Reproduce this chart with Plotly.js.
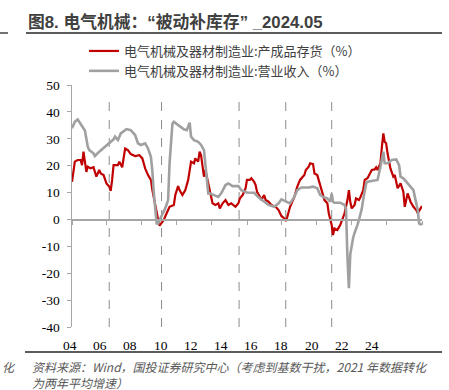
<!DOCTYPE html>
<html>
<head>
<meta charset="utf-8">
<script src="https://cdn.plot.ly/plotly-3.0.1.min.js"></script>
<style>
html,body{margin:0;padding:0;background:#fff;}
#chart{width:449px;height:390px;}
</style>
</head>
<body>
<div id="chart"></div>
<script>
// 电气机械及器材制造业:产成品存货（%）
const redDates = ['2004-01','2004-02','2004-03','2004-05','2004-07','2004-08','2004-09','2004-10','2004-11','2004-12',
'2005-02','2005-04','2005-06','2005-08','2005-09','2005-11','2006-01','2006-03','2006-04','2006-05','2006-06','2006-09',
'2006-10','2006-12','2007-02','2007-04','2007-06','2007-09','2007-12','2008-02','2008-04','2008-06','2008-08','2008-09',
'2008-10','2008-11','2008-12','2009-01','2009-02','2009-03','2009-05','2009-07','2009-09','2009-12','2010-01','2010-03',
'2010-04','2010-06','2010-08','2010-10','2010-12','2011-02','2011-03','2011-05','2011-06','2011-07','2011-09','2011-10',
'2011-12','2012-01','2012-03','2012-05','2012-07','2012-08','2012-10','2012-12','2013-02','2013-04','2013-07','2013-09',
'2013-10','2013-12','2014-02','2014-03','2014-05','2014-06','2014-08','2014-09','2014-10','2014-12','2015-01','2015-03',
'2015-04','2015-06','2015-08','2015-11','2016-01','2016-03','2016-05','2016-06','2016-07','2016-09','2016-12','2017-02',
'2017-04','2017-07','2017-08','2017-10','2017-11','2018-01','2018-02','2018-04','2018-05','2018-07','2018-09','2018-11',
'2018-12','2019-02','2019-03','2019-04','2019-06','2019-08','2019-10','2019-11','2020-01','2020-02','2020-03','2020-04',
'2020-06','2020-07','2020-09','2020-10','2020-12','2021-01','2021-03','2021-04','2021-06','2021-08','2021-09','2021-10',
'2021-12','2022-01','2022-02','2022-03','2022-04','2022-05','2022-06','2022-07','2022-09','2022-10','2022-11','2022-12',
'2023-02','2023-04','2023-05','2023-06','2023-07','2023-09','2023-11','2024-01','2024-02','2024-04','2024-05'];
const redValues = [14,17.7,21.5,22.1,22.1,20.2,25.2,21.5,17.7,19.6,
19,19.4,15.9,18.4,17.1,16.5,13.4,12.2,10.6,14.7,20.2,20.2,
21.5,19.4,26.4,25.8,24.3,23.6,23.9,22.7,19,16.5,14.7,10.9,
8,6,3,0,-2.3,-1.5,-0.2,2.3,4.7,5.4,9.1,12.4,
10.9,9.1,10.9,14.7,21.5,20.9,22.7,21.5,25.2,23.9,15.9,18.4,
13.4,9.7,6,5.4,6,4.1,6,7.2,5.4,6,4.7,6,
7.8,9.1,11.6,14.7,14.7,15.3,14,12.8,10.3,8.4,7.2,9.1,
7.2,6.6,5.4,4.7,3.5,1.3,0.4,-0.6,0.8,4.7,8.4,12.2,
14.7,16.5,18.4,19.6,20.9,20.6,17.1,16.5,14.7,10.9,7.2,6,
2.3,-2.1,-5.8,-3.3,-3.9,-2.1,1,2.3,7.2,10.9,6.6,4.1,
5.4,7.8,7.2,8.2,10.9,14.7,15.3,16.5,18.4,18.6,19.4,18.4,
20.9,27,32,28.9,28.3,24.6,22.1,19,15.9,16.5,14,11.6,
13.4,10.3,4.7,7.8,9.7,6.6,4.7,3.5,2.3,4.1,5];

// 电气机械及器材制造业:营业收入（%）
const grayDates = ['2004-01','2004-03','2004-05','2004-07','2004-10','2004-12','2005-01','2005-04','2005-05','2005-08',
'2005-12','2006-03','2006-06','2006-07','2006-09','2006-11','2007-03','2007-06','2007-09','2007-11','2008-01','2008-04',
'2008-06','2008-08','2008-09','2008-10','2008-11','2008-12','2009-01','2009-02','2009-06','2009-08','2009-09','2009-11',
'2009-12','2010-03','2010-07','2010-09','2010-10','2010-11','2010-12','2011-02','2011-05','2011-07','2011-09','2011-10',
'2011-12','2012-01','2012-04','2012-07','2012-09','2012-12','2013-02','2013-05','2013-09','2013-11','2014-03','2014-08',
'2014-11','2015-03','2015-06','2015-10','2016-01','2016-03','2016-07','2016-09','2016-12','2017-02','2017-05','2017-10',
'2018-01','2018-04','2018-06','2018-08','2018-11','2019-01','2019-02','2019-03','2019-04','2019-08','2019-11','2019-12',
'2020-01','2020-02','2020-03','2020-04','2020-05','2020-06','2020-07','2020-08','2020-09','2020-10','2020-11','2020-12',
'2021-01','2021-02','2021-03','2021-07','2021-10','2021-12','2022-02','2022-03','2022-05','2022-08','2022-11','2023-01',
'2023-02','2023-04','2023-06','2023-09','2023-11','2023-12','2024-02','2024-03','2024-04','2024-05'];
const grayValues = [33.9,36.3,37.2,35.7,33.1,27,25.8,24.6,23.6,25.2,
27,28.5,29.8,30.8,29.5,32,33.6,33.2,31.4,28.3,27.7,28.3,
26.4,23.3,18,10,3,-1.5,-1.6,-0.2,4.1,7.2,20.9,35.7,
36.3,35.1,33.5,33.2,34.5,36,30.8,29.5,28.9,27.7,25.8,19.6,
9.7,9.7,9.1,8.4,9.7,12.8,13.4,12.4,12.4,10.9,10,9.9,
8.2,6.6,5.4,4.7,6,7.5,6.6,6,8.4,10.9,11.9,11.9,
12.2,11.6,9.1,8.4,7.8,6.6,9.7,6.6,6.2,6.2,5.4,4,
-14,-25.6,-13,-9,-6.8,-5,-3,-2,-0.2,1.8,4,7.5,
11,13.4,14,14.3,14.7,19.6,25.2,20.9,20.9,22.1,22.3,20.2,
15.9,15.3,14,12.2,10.9,8.4,3.5,-1.5,-1.8,-1.7];

// dashed reference dates (cycle turning points)
const cycleDates = ['2006-03-01','2009-03-15','2013-09-15','2016-06-01','2019-02-01'];

const xLabels = ['04','06','08','10','12','14','16','18','20','22','24'];
const yTicks = [-40,-30,-20,-10,0,10,20,30,40,50];
const yTickText = ['-40','-30','-20','-10','0','10','20','30','40','50'];

const seriesNames = ['电气机械及器材制造业:产成品存货（%）','电气机械及器材制造业:营业收入（%）'];

const xStart = '2004-01-01', xEnd = '2024-05-01';
const yMin = -40, yMax = 50;

const W=449,H=390, L=72, R=27, T=85, B=63;
const pw = W-L-R, ph = H-T-B;
const px2fx = p => (p-L)/pw;
const px2fy = p => (H-B-p)/ph;

// evenly spaced axis tick marks across the date range
const t0 = Date.parse(xStart+'T00:00:00Z'), t1 = Date.parse(xEnd+'T00:00:00Z');
const iso = t => new Date(t).toISOString().slice(0,10);
const tickMarks = [];
for (let k=0;k<=10;k++){ tickMarks.push(iso(t0+(t1-t0)*k/10)); }

const CJK = '"Noto Sans CJK SC", sans-serif';
const SERIF = '"Liberation Serif", "Times New Roman", serif';

const traces = [
  {x: redDates, y: redValues, type:'scatter', mode:'lines', name: seriesNames[0],
   line:{color:'#C00000', width:2.2}},
  {x: grayDates, y: grayValues, type:'scatter', mode:'lines', name: seriesNames[1],
   line:{color:'#A0A0A0', width:2.6}}
];

const shapes = cycleDates.map(d => ({
  type:'line', xref:'x', yref:'y', x0:d, x1:d, y0:yMin, y1:45.5,
  line:{color:'#8c8c8c', width:1, dash:'dash'}, layer:'below'
}));
// header & footer rules
shapes.push({type:'line', xref:'paper', yref:'paper', x0:px2fx(26), x1:px2fx(442), y0:px2fy(33), y1:px2fy(33), line:{color:'#262626', width:1.3}});
shapes.push({type:'line', xref:'paper', yref:'paper', x0:px2fx(0), x1:px2fx(8), y0:px2fy(33), y1:px2fy(33), line:{color:'#262626', width:1.3}});
shapes.push({type:'line', xref:'paper', yref:'paper', x0:px2fx(25), x1:px2fx(442), y0:px2fy(352), y1:px2fy(352), line:{color:'#262626', width:1.3}});

// year labels under the plot (placed on the source image's tighter label spacing)
const yearLabelAnns = xLabels.map((t,k)=>({
  xref:'paper', yref:'paper', x:px2fx(70+30.2*k), y:px2fy(345), xanchor:'center', yanchor:'middle',
  showarrow:false, text:t, font:{family:SERIF, size:13.5, color:'#000'}
}));

const layout = {
  width:W, height:H,
  margin:{l:L, r:R, t:T, b:B, pad:0},
  paper_bgcolor:'#fff', plot_bgcolor:'rgba(0,0,0,0)',
  title:{text:'<b>图8. 电气机械：“被动补库存” _2024.05</b>', xref:'container', yref:'container',
    x:28/W, xanchor:'left', y:1-22/H, yanchor:'middle',
    font:{family:'Liberation Sans, '+CJK, size:16.8, color:'#404040'}},
  showlegend:true,
  legend:{x:px2fx(84), xanchor:'left', y:px2fy(36), yanchor:'top', orientation:'v',
    font:{family:CJK, size:13, color:'#404040'}, bgcolor:'rgba(0,0,0,0)', tracegroupgap:0, itemwidth:30},
  // time axis: line + tick marks crossing at y = 0
  xaxis:{type:'date', domain:[0,1], range:[xStart,xEnd], anchor:'free', position:(0-yMin)/(yMax-yMin),
    showline:true, linecolor:'#A6A6A6', linewidth:1.5, ticks:'outside', ticklen:4, tickwidth:1, tickcolor:'#A6A6A6',
    tickmode:'array', tickvals:tickMarks, showticklabels:false, showgrid:false, zeroline:false},
  yaxis:{range:[yMin,yMax], anchor:'x', domain:[0,1], tickmode:'array', tickvals:yTicks, ticktext:yTickText,
    showline:true, linecolor:'#A6A6A6', linewidth:1.5, ticks:'outside', ticklen:4, tickcolor:'#A6A6A6',
    showgrid:false, zeroline:false, ticklabelstandoff:4,
    tickfont:{family:SERIF, size:13.5, color:'#000'}},
  shapes:shapes,
  annotations:yearLabelAnns.concat([
    {xref:'paper', yref:'paper', x:px2fx(30), y:px2fy(356), xanchor:'left', yanchor:'top', align:'left', showarrow:false,
     text:'<i>资料来源：Wind，国投证券研究中心（考虑到基数干扰，2021 年数据转化<br>为两年平均增速）</i>',
     font:{family:CJK, size:12, color:'#595959'}},
    {xref:'paper', yref:'paper', x:px2fx(0), y:px2fy(356), xanchor:'left', yanchor:'top', align:'left', showarrow:false,
     text:'<i>化</i>', font:{family:CJK, size:12, color:'#595959'}}
  ])
};

Plotly.newPlot('chart', traces, layout, {staticPlot:true, displayModeBar:false});
</script>
</body>
</html>
